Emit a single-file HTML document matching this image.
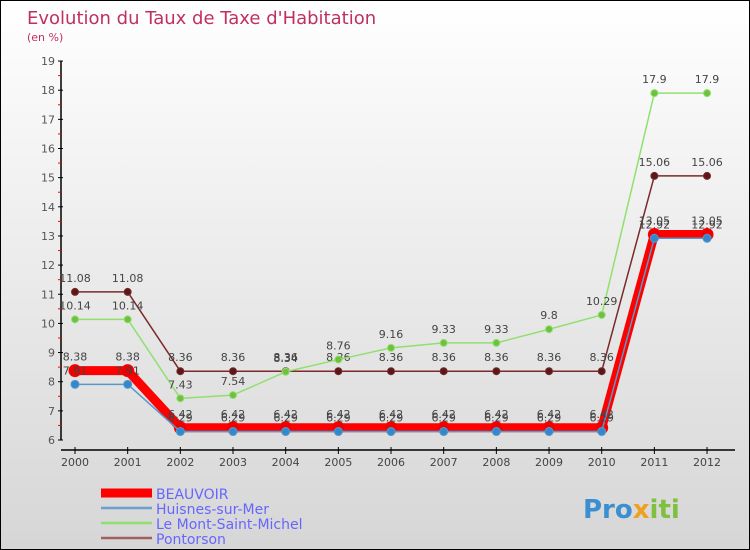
<!DOCTYPE html>
<html><head><meta charset="utf-8"><style>
body{margin:0}
#c{width:748px;height:548px;border:1px solid #000;background:linear-gradient(#fff,#d6d6d6);position:relative;font-family:"DejaVu Sans","Liberation Sans",sans-serif;overflow:hidden}
</style></head><body>
<div id="c">
<svg id="s" width="748" height="548"></svg>
</div>
<script>
const years=["2000","2001","2002","2003","2004","2005","2006","2007","2008","2009","2010","2011","2012"];
const beauvoir=[8.38,8.38,6.42,6.42,6.42,6.42,6.42,6.42,6.42,6.42,6.42,13.05,13.05];
const huisnes=[7.91,7.91,6.29,6.29,6.29,6.29,6.29,6.29,6.29,6.29,6.29,12.92,12.92];
const mont=[10.14,10.14,7.43,7.54,8.34,8.76,9.16,9.33,9.33,9.8,10.29,17.9,17.9];
const pontorson=[11.08,11.08,8.36,8.36,8.36,8.36,8.36,8.36,8.36,8.36,8.36,15.06,15.06];
const yTicks=[6,7,8,9,10,11,12,13,14,15,16,17,18,19];
const s=document.getElementById('s');const NS='http://www.w3.org/2000/svg';
function X(i){return 74+i*52.67}
function Y(v){return 439-(v-6)*29.15}
function el(t,a,p){const e=document.createElementNS(NS,t);for(const k in a)e.setAttribute(k,a[k]);(p||s).appendChild(e);return e}
function tx(x,y,str,a){const e=el('text',Object.assign({x:x,y:y},a));e.textContent=str;return e}
const t=tx(26,23,"Evolution du Taux de Taxe d'Habitation",{fill:'#c0305e','font-size':18});

const st=tx(26,40,"(en %)",{fill:'#c0305e','font-size':11});

// axes
const ya=el('line',{x1:60,y1:Y(19),x2:60,y2:Y(6),stroke:'#000','stroke-width':1.5});

yTicks.forEach(v=>{el('line',{x1:57,x2:62,y1:Y(v),y2:Y(v),stroke:'#000'});
 if(v<19)el('line',{x1:57,x2:60,y1:Y(v+0.5),y2:Y(v+0.5),stroke:'#f00'});
 const l=tx(54,Y(v)+4,String(v),{fill:'#555','font-size':11,'text-anchor':'end'});
 });
const xa=el('line',{x1:60,y1:449,x2:734,y2:449,stroke:'#000','stroke-width':1.5});

years.forEach((y,i)=>{el('line',{x1:X(i),x2:X(i),y1:446,y2:453,stroke:'#000'});
 const l=tx(X(i),465,y,{fill:'#444','font-size':11,'text-anchor':'middle'});
 });
function series(d,name,col,w,r,dot){
 const g=el('g',{});
 el('polyline',{points:d.map((v,i)=>X(i)+','+Y(v)).join(' '),fill:'none',stroke:col,'stroke-width':w,'stroke-linejoin':'round'},g);
 d.forEach((v,i)=>{const c=el('circle',{cx:X(i),cy:Y(v),r:r,fill:dot,stroke:col},g);
  
  const l=tx(X(i),Y(v)-10,String(v),{fill:'#444','font-size':11,'text-anchor':'middle'},g);
  });
}
series(pontorson,'pontorson','#7a2a2a',1.5,3.5,'#5a1818');
series(mont,'mont-saint-michel','#90e070',1.5,3.5,'#70c040');
series(beauvoir,'beauvoir','#f00',9,6,'#e00');
series(huisnes,'huisnes','#5599cc',1.5,4,'#3388cc');
const leg=[['BEAUVOIR','#f00',9],['Huisnes-sur-Mer','#6aa0cc',2.5],['Le Mont-Saint-Michel','#90e070',2.5],['Pontorson','#a06060',2.5]];
leg.forEach((L,i)=>{const g=el('g',{});
 const y=492+i*15;el('line',{x1:100,x2:151,y1:y,y2:y,stroke:L[1],'stroke-width':L[2]},g);
 tx(155,y+6,L[0],{fill:'#6666ff','font-size':14},g);});
const lg=el('text',{x:582,y:517,'font-size':26,'font-weight':'bold'});
[['Pro','#3a8fd0'],['x','#f0a020'],['iti','#80c040']].forEach(p=>{const ts=el('tspan',{fill:p[1]},lg);ts.textContent=p[0];});
</script>
</body></html>
